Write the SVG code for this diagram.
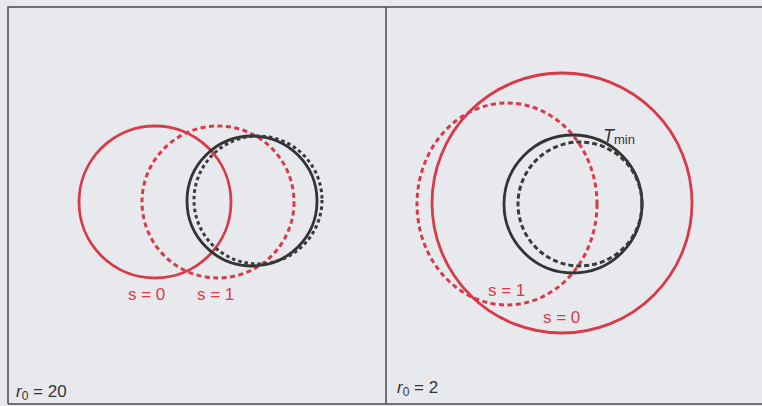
<svg xmlns="http://www.w3.org/2000/svg" width="762" height="406" viewBox="0 0 762 406">
<style>
.bg{fill:#e7e9ed}
.frame{fill:none;stroke:#4a4a4a;stroke-width:1.5}
.red{fill:none;stroke:#d83a4a;stroke-width:2.8}
.redd{fill:none;stroke:#d83a4a;stroke-width:3;stroke-dasharray:5 3.5}
.blk{fill:none;stroke:#333;stroke-width:2.8}
.blkd{fill:none;stroke:#3a3a3a;stroke-width:3;stroke-dasharray:3.5 3}
.blkd2{fill:none;stroke:#3a3a3a;stroke-width:3;stroke-dasharray:5 3}
.lab{font-family:"Liberation Sans",Arial,sans-serif;font-size:17px;fill:#d83a4a}
.r0{font-family:"Liberation Sans",Arial,sans-serif;font-size:17px;fill:#333}
.it{font-style:italic}
</style>
<rect class="bg" x="0" y="0" width="762" height="406"/>
<g id="frame">
<path class="frame" d="M8 404 V7 H762 M386 7 V404 M8 404 H762"/>
</g>
<g id="left-panel">
<g id="l-s0"><circle class="red" cx="155" cy="202" r="76"/></g>
<g id="l-s1"><circle class="redd" cx="218" cy="202" r="76"/></g>
<g id="l-tmin"><circle class="blk" cx="252" cy="201" r="65"/></g>
<g id="l-tmin-d"><circle class="blkd" cx="258" cy="200" r="64"/></g>
<text class="lab" x="128" y="300">s = 0</text>
<text class="lab" x="197" y="300">s = 1</text>
<text class="r0" x="16" y="397"><tspan class="it">r</tspan><tspan font-size="12" dy="3">0</tspan><tspan dy="-3"> = 20</tspan></text>
</g>
<g id="right-panel">
<g id="r-s0"><circle class="red" cx="562" cy="203" r="130"/></g>
<g id="r-s1"><ellipse class="redd" cx="507" cy="204" rx="90" ry="101"/></g>
<g id="r-tmin"><circle class="blk" cx="573" cy="204" r="69"/></g>
<g id="r-tmin-d"><circle class="blkd2" cx="580" cy="204" r="62"/></g>
<text class="r0" x="603" y="142"><tspan class="it" font-size="18">T</tspan><tspan font-size="13" dy="2">min</tspan></text>
<text class="lab" x="488" y="296">s = 1</text>
<text class="lab" x="543" y="323">s = 0</text>
<text class="r0" x="397" y="393"><tspan class="it">r</tspan><tspan font-size="12" dy="3">0</tspan><tspan dy="-3"> = 2</tspan></text>
</g>
</svg>
